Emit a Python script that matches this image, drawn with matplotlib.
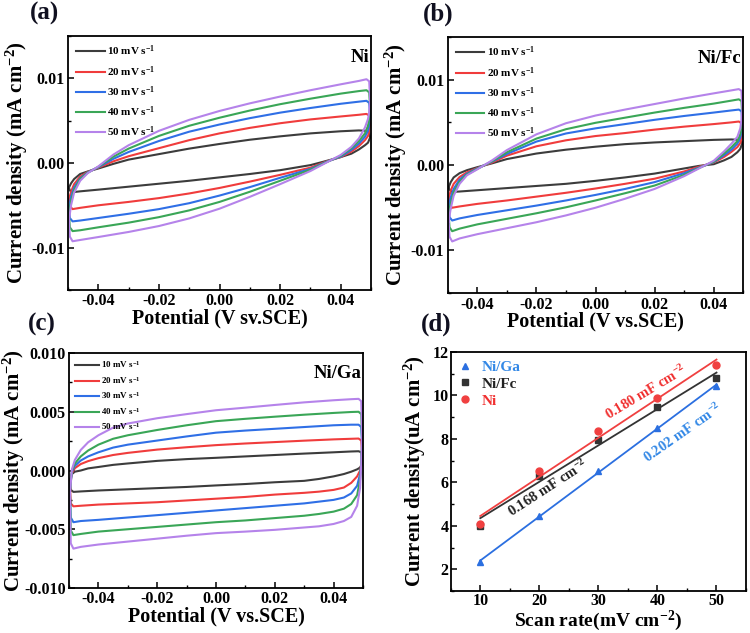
import numpy as np
import matplotlib
matplotlib.use('Agg')
import matplotlib.pyplot as plt
from matplotlib.ticker import MultipleLocator, FormatStrFormatter

plt.rcParams['font.family'] = 'Liberation Serif'
plt.rcParams['font.weight'] = 'bold'
plt.rcParams['axes.labelweight'] = 'bold'
plt.rcParams['axes.unicode_minus'] = False
plt.rcParams['mathtext.fontset'] = 'custom'
plt.rcParams['mathtext.rm'] = 'Liberation Serif:bold'
plt.rcParams['mathtext.bf'] = 'Liberation Serif:bold'
plt.rcParams['mathtext.default'] = 'bf'

# CV loops: potential grid for forward / reverse sweep, current in 1e-3 mA cm-2
V_FWD = [-0.0497, -0.049, -0.048, -0.046, -0.0435, -0.04, -0.035, -0.03, -0.02,
         -0.01, 0.0, 0.01, 0.02, 0.03, 0.04, 0.046, 0.0485, 0.0494]
V_REV = [0.0497, 0.0494, 0.049, 0.048, 0.046, 0.0435, 0.04, 0.035, 0.03, 0.02,
         0.01, 0.0, -0.01, -0.02, -0.03, -0.04, -0.046, -0.0485, -0.0494]
RATES = ['10', '20', '30', '40', '50']
COLORS = ['#3c3c3c', '#f03c3c', '#2f6fe6', '#3aa657', '#b583ea']

# (a) Ni
a_fwd = [
    [-2.9, -2.4, -1.9, -1.3, -1.0, -0.65, -0.1, 0.4, 1.05, 1.7, 2.25, 2.75, 3.15, 3.5, 3.75, 3.85, 3.8, 3.6],
    [-4.3, -3.4, -2.5, -1.6, -1.05, -0.55, 0.2, 0.8, 1.75, 2.7, 3.5, 4.15, 4.7, 5.15, 5.5, 5.7, 5.8, 5.6],
    [-5.3, -4.0, -2.9, -1.8, -1.1, -0.5, 0.5, 1.3, 2.6, 3.7, 4.55, 5.3, 5.95, 6.5, 7.0, 7.25, 7.35, 7.1],
    [-6.1, -4.5, -3.2, -1.9, -1.15, -0.45, 0.75, 1.7, 3.2, 4.4, 5.35, 6.2, 6.95, 7.6, 8.2, 8.5, 8.6, 8.35],
    [-6.8, -5.0, -3.5, -2.1, -1.2, -0.4, 1.0, 2.1, 3.8, 5.1, 6.15, 7.05, 7.85, 8.6, 9.3, 9.7, 9.9, 9.65],
]
a_rev = [
    [3.0, 2.75, 2.4, 2.1, 1.6, 1.1, 0.7, 0.22, -0.25, -0.85, -1.3, -1.7, -2.1, -2.45, -2.8, -3.15, -3.35, -3.45, -3.25],
    [4.6, 3.7, 3.2, 2.7, 2.0, 1.35, 0.7, 0.15, -0.55, -1.4, -2.2, -2.95, -3.6, -4.15, -4.6, -5.0, -5.3, -5.45, -5.1],
    [5.6, 4.5, 3.8, 3.1, 2.3, 1.55, 0.75, 0.1, -0.7, -1.75, -2.85, -3.85, -4.75, -5.45, -6.0, -6.5, -6.8, -6.9, -6.5],
    [6.6, 5.2, 4.4, 3.5, 2.6, 1.75, 0.85, 0.05, -0.8, -2.1, -3.4, -4.6, -5.6, -6.4, -7.05, -7.6, -7.95, -8.05, -7.6],
    [7.5, 6.0, 5.2, 4.2, 2.9, 1.9, 0.95, 0.0, -0.95, -2.5, -4.0, -5.4, -6.55, -7.45, -8.15, -8.75, -9.1, -9.25, -8.7],
]

# (b) Ni/Fc
b_fwd = [
    [-2.6, -2.0, -1.45, -0.95, -0.6, -0.25, 0.2, 0.7, 1.35, 1.8, 2.15, 2.45, 2.65, 2.8, 2.95, 3.0, 2.95, 2.75],
    [-3.9, -3.0, -2.2, -1.4, -0.85, -0.35, 0.3, 1.1, 2.2, 2.9, 3.4, 3.75, 4.15, 4.5, 4.8, 5.0, 5.1, 4.9],
    [-4.9, -3.8, -2.8, -1.7, -1.0, -0.4, 0.4, 1.3, 2.75, 3.7, 4.3, 4.8, 5.3, 5.75, 6.15, 6.4, 6.5, 6.3],
    [-5.8, -4.5, -3.2, -1.95, -1.1, -0.45, 0.45, 1.5, 3.1, 4.2, 4.95, 5.55, 6.15, 6.7, 7.2, 7.55, 7.7, 7.5],
    [-6.6, -5.1, -3.6, -2.2, -1.2, -0.5, 0.55, 1.75, 3.6, 4.9, 5.8, 6.5, 7.15, 7.8, 8.4, 8.75, 8.9, 8.7],
]
b_rev = [
    [2.6, 2.3, 1.9, 1.5, 0.95, 0.55, 0.1, -0.1, -0.4, -1.0, -1.45, -1.85, -2.2, -2.45, -2.7, -2.95, -3.1, -3.15, -2.9],
    [3.6, 3.1, 2.6, 2.1, 1.55, 0.95, 0.3, -0.2, -0.75, -1.6, -2.2, -2.75, -3.25, -3.7, -4.15, -4.55, -4.85, -5.0, -4.7],
    [4.6, 3.9, 3.2, 2.5, 1.8, 1.15, 0.35, -0.3, -0.95, -2.0, -2.8, -3.5, -4.15, -4.75, -5.3, -5.85, -6.25, -6.5, -6.1],
    [5.5, 4.5, 3.6, 2.8, 2.1, 1.35, 0.4, -0.35, -1.15, -2.4, -3.3, -4.15, -4.95, -5.65, -6.3, -6.95, -7.45, -7.75, -7.3],
    [6.5, 5.3, 4.3, 3.3, 2.5, 1.6, 0.5, -0.4, -1.3, -2.8, -3.95, -5.0, -5.9, -6.7, -7.4, -8.1, -8.6, -8.95, -8.4],
]

# (c) Ni/Ga
c_fwd = [
    [-0.8, -0.3, -0.1, 0.0, 0.18, 0.3, 0.48, 0.6, 0.82, 0.97, 1.08, 1.2, 1.32, 1.44, 1.55, 1.62, 1.64, 1.55],
    [-1.2, -0.2, 0.2, 0.55, 0.8, 1.05, 1.32, 1.5, 1.78, 1.98, 2.16, 2.3, 2.42, 2.54, 2.65, 2.7, 2.72, 2.55],
    [-1.5, -0.1, 0.4, 0.85, 1.2, 1.55, 1.95, 2.2, 2.55, 2.9, 3.22, 3.4, 3.55, 3.7, 3.85, 3.9, 3.9, 3.7],
    [-1.8, 0.0, 0.6, 1.2, 1.7, 2.2, 2.7, 3.0, 3.45, 3.85, 4.2, 4.4, 4.58, 4.75, 4.9, 4.98, 5.0, 4.8],
    [-2.0, 0.1, 0.9, 1.75, 2.4, 3.0, 3.65, 4.0, 4.45, 4.8, 5.13, 5.35, 5.58, 5.8, 5.98, 6.07, 6.1, 5.9],
]
c_rev = [
    [1.0, 0.45, 0.25, 0.1, -0.1, -0.3, -0.5, -0.72, -0.88, -1.0, -1.15, -1.27, -1.4, -1.5, -1.6, -1.7, -1.78, -1.82, -1.65],
    [1.5, 0.45, 0.0, -0.5, -1.05, -1.45, -1.65, -1.8, -1.9, -2.05, -2.25, -2.4, -2.55, -2.7, -2.8, -2.9, -3.0, -3.05, -2.8],
    [2.0, 0.5, -0.3, -1.3, -1.95, -2.3, -2.5, -2.65, -2.8, -3.0, -3.2, -3.4, -3.6, -3.8, -4.0, -4.2, -4.3, -4.4, -4.0],
    [2.5, 0.5, -0.8, -2.1, -2.85, -3.25, -3.5, -3.7, -3.85, -4.05, -4.25, -4.4, -4.6, -4.8, -5.0, -5.2, -5.4, -5.5, -5.1],
    [3.0, 0.5, -1.5, -3.0, -3.95, -4.3, -4.55, -4.75, -4.85, -5.05, -5.2, -5.33, -5.55, -5.8, -6.05, -6.3, -6.5, -6.65, -6.2],
]

# (d) current density vs scan rate
scan_rate = [10, 20, 30, 40, 50]
ni_ga = [2.35, 4.45, 6.5, 8.5, 10.45]
ni_fc = [4.0, 6.3, 7.95, 9.45, 10.8]
ni = [4.1, 6.5, 8.35, 9.9, 11.4]


def style_axes(ax, pad=2.5):
    for s in ax.spines.values():
        s.set_linewidth(1.3)
    ax.tick_params(which='major', direction='in', length=4, width=1.1, labelsize=11.5, pad=pad)
    ax.tick_params(which='minor', direction='in', length=2.2, width=1.0)
    for lab in ax.get_xticklabels() + ax.get_yticklabels():
        lab.set_fontweight('bold')


def cv_panel(ax, fwd, rev, name, xlabel, ylim, ymajor, yfmt, legsize, ylabpad):
    x = V_FWD + V_REV + [V_FWD[0]]
    for f, r, col, rate in zip(fwd, rev, COLORS, RATES):
        y = np.array(f + r + [f[0]]) * 1e-3
        ax.plot(x, y, color=col, lw=1.5, label=rate + r' mV s$^{-1}$')
    ax.set_xlim(-0.05, 0.05)
    ax.set_ylim(*ylim)
    ax.xaxis.set_major_locator(MultipleLocator(0.02))
    ax.xaxis.set_minor_locator(MultipleLocator(0.01))
    ax.xaxis.set_major_formatter(FormatStrFormatter('%.2f'))
    ax.yaxis.set_major_locator(MultipleLocator(ymajor))
    ax.yaxis.set_minor_locator(MultipleLocator(ymajor / 2))
    ax.yaxis.set_major_formatter(FormatStrFormatter(yfmt))
    ax.set_xlabel(xlabel, fontsize=14.5, fontweight='bold', labelpad=-1)
    ax.set_ylabel(r'Current density (mA cm$^{-2}$)', fontsize=15, fontweight='bold', labelpad=ylabpad)
    ax.legend(loc='upper left', frameon=False, handlelength=2.6, labelspacing=0.5,
              borderaxespad=0.3, handletextpad=0.2, prop={'weight': 'bold', 'size': legsize})
    ax.text(0.995, 0.95, name, transform=ax.transAxes, ha='right', va='top',
            fontsize=13.5, fontweight='bold')
    style_axes(ax)


fig = plt.figure(figsize=(7.5, 6.33), dpi=100)

ax_a = fig.add_axes([0.0907, 0.542, 0.404, 0.401])
cv_panel(ax_a, a_fwd, a_rev, 'Ni', 'Potential (V sv.SCE)', (-0.015, 0.015), 0.01, '%.2f', 8, 1)

ax_b = fig.add_axes([0.597, 0.537, 0.394, 0.4045])
cv_panel(ax_b, b_fwd, b_rev, 'Ni/Fc', 'Potential (V vs.SCE)', (-0.015, 0.015), 0.01, '%.2f', 8, 1)

ax_c = fig.add_axes([0.092, 0.0711, 0.392, 0.3712])
cv_panel(ax_c, c_fwd, c_rev, 'Ni/Ga', 'Potential (V vs.SCE)', (-0.010, 0.010), 0.005, '%.3f', 6.5, -2)

# (d)
ax_d = fig.add_axes([0.601, 0.0664, 0.3937, 0.3776])
xs = np.array(scan_rate)
series = [
    (ni_ga, '#2b6fe0', '^', 'Ni/Ga', '#3388e6'),
    (ni_fc, '#333333', 's', 'Ni/Fc', '#222222'),
    (ni, '#f04040', 'o', 'Ni', '#f03030'),
]
handles = []
for vals, col, mk, lab, tcol in series:
    k, b = np.polyfit(xs, vals, 1)
    ax_d.plot(xs, k * xs + b, color=col, lw=1.3)
    h, = ax_d.plot(xs, vals, linestyle='none', marker=mk, color=col, ms=5, label=lab)
    handles.append(h)
ax_d.legend(handles=handles, loc='upper left', frameon=False, handlelength=0.8,
            labelspacing=0.2, borderaxespad=0.15, handletextpad=0.7,
            labelcolor=[s[4] for s in series], prop={'weight': 'bold', 'size': 11})
ax_d.text(38, 10.15, r'0.180 mF cm$^{-2}$', color='#f03030', rotation=31,
          ha='center', va='center', fontsize=10.5, fontweight='bold')
ax_d.text(44.3, 8.3, r'0.202 mF cm$^{-2}$', color='#3388e6', rotation=35,
          ha='center', va='center', fontsize=10.5, fontweight='bold')
ax_d.text(21.5, 5.75, r'0.168 mF cm$^{-2}$', color='#222222', rotation=33,
          ha='center', va='center', fontsize=10.5, fontweight='bold')
ax_d.set_xlim(5, 55)
ax_d.set_ylim(1, 12)
ax_d.xaxis.set_major_locator(MultipleLocator(10))
ax_d.xaxis.set_minor_locator(MultipleLocator(5))
ax_d.yaxis.set_major_locator(MultipleLocator(2))
ax_d.yaxis.set_minor_locator(MultipleLocator(1))
ax_d.set_xlabel(r'Scan rate(mV cm$^{-2}$)', fontsize=14, fontweight='bold', labelpad=0)
ax_d.set_ylabel(r'Current density(uA cm$^{-2}$)', fontsize=15, fontweight='bold', labelpad=3)
style_axes(ax_d, pad=1.5)

# panel letters
for lab, x, y in [('(a)', 0.059, 0.978), ('(b)', 0.584, 0.978),
                  ('(c)', 0.056, 0.487), ('(d)', 0.581, 0.487)]:
    fig.text(x, y, lab, ha='center', va='center', fontsize=18, fontweight='bold', color='#101020')

fig.savefig('out.png', dpi=100)
